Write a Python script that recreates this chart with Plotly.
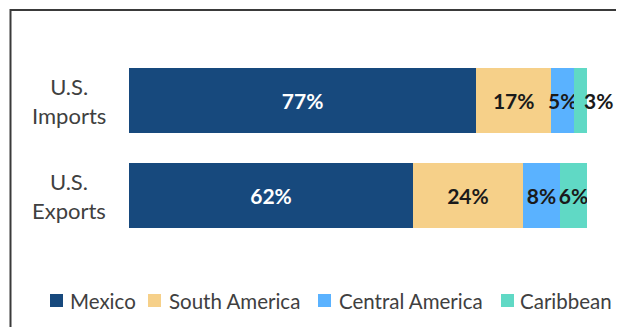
import plotly.graph_objects as go

categories = ["U.S. Imports", "U.S. Exports"]
category_labels = ["U.S.<br>Imports", "U.S.<br>Exports"]
series_names = ["Mexico", "South America", "Central America", "Caribbean"]
mexico = [75.8, 62.0]
south_america = [16.4, 24.0]
central_america = [5.0, 8.1]
caribbean = [2.8, 5.9]
mexico_labels = ["77%", "62%"]
south_america_labels = ["17%", "24%"]
central_america_labels = ["5%", "8%"]
caribbean_labels = ["3%", "6%"]

colors = ["#17497D", "#F6D089", "#5AB2FF", "#60D9C5"]
text_colors = ["#FFFFFF", "#1A1A1A", "#1A1A1A", "#1A1A1A"]
series_values = [mexico, south_america, central_america, caribbean]
series_labels = [mexico_labels, south_america_labels, central_america_labels, caribbean_labels]

FONT = "Lato"
# page has an 8px body margin; figure coordinates = page coordinates - 8
W, H = 608, 319
ml, mr, mt, mb = 121, 29, 45, 84
pw, ph = W - ml - mr, H - mt - mb


def px_x(p):
    return (p - ml) / pw


def px_y(p):
    return (H - mb - p) / ph


fig = go.Figure()
for i, (name, vals, labs, col, tcol) in enumerate(zip(series_names, series_values, series_labels, colors, text_colors)):
    last = i == len(series_names) - 1
    fig.add_trace(go.Bar(
        name=name, y=categories, x=vals, orientation="h",
        marker=dict(color=col, line=dict(width=0)),
        text=labs, texttemplate="%{text}",
        textposition=["none", "inside"] if last else "inside",
        insidetextanchor="middle", constraintext="none", textangle=0,
        textfont=dict(family=FONT, size=21, color=tcol, weight="bold"),
        hoverinfo="skip", showlegend=False,
    ))

# the narrow Caribbean import segment: its label spills past the bar end
imports_total = mexico[0] + south_america[0] + central_america[0] + caribbean[0]
fig.add_annotation(x=imports_total, xref="x", y=categories[0], yref="y",
                   text=caribbean_labels[0], showarrow=False, xanchor="left", yanchor="middle",
                   xshift=-5, font=dict(family=FONT, size=21, color=text_colors[3], weight="bold"))

for cat, lab in zip(categories, category_labels):
    fig.add_annotation(x=px_x(61), xref="paper", y=cat, yref="y",
                       text=lab, showarrow=False, align="center",
                       xanchor="center", yanchor="middle",
                       font=dict(family=FONT, size=22, color="#404040"))

# chart-area border (extends past the right and bottom edges)
fig.add_shape(type="rect", xref="paper", yref="paper",
              x0=px_x(2.5), x1=px_x(640), y0=px_y(345), y1=px_y(2),
              line=dict(color="#3A3A3A", width=2), fillcolor="rgba(0,0,0,0)", layer="below")

# legend: swatches and labels
legend_sq_x = [42, 140, 310, 493]
legend_txt_x = [60, 159, 329, 510]
legend_cy = 292.5
for name, col, sx, tx in zip(series_names, colors, legend_sq_x, legend_txt_x):
    fig.add_shape(type="rect", xref="paper", yref="paper",
                  x0=px_x(sx), x1=px_x(sx + 13), y0=px_y(legend_cy + 6.5), y1=px_y(legend_cy - 6.5),
                  line=dict(width=0), fillcolor=col)
    fig.add_annotation(x=px_x(tx), xref="paper", y=px_y(legend_cy), yref="paper",
                       text=name, showarrow=False, xanchor="left", yanchor="middle",
                       font=dict(family=FONT, size=20.5, color="#404040"))

fig.update_layout(
    width=W, height=H, barmode="stack", bargap=0.316,
    margin=dict(l=ml, r=mr, t=mt, b=mb, pad=0),
    paper_bgcolor="white", plot_bgcolor="white",
    xaxis=dict(range=[0, 100], visible=False, fixedrange=True),
    yaxis=dict(autorange="reversed", visible=False, fixedrange=True),
    showlegend=False,
    font=dict(family=FONT),
)

fig.write_html("out.html")
